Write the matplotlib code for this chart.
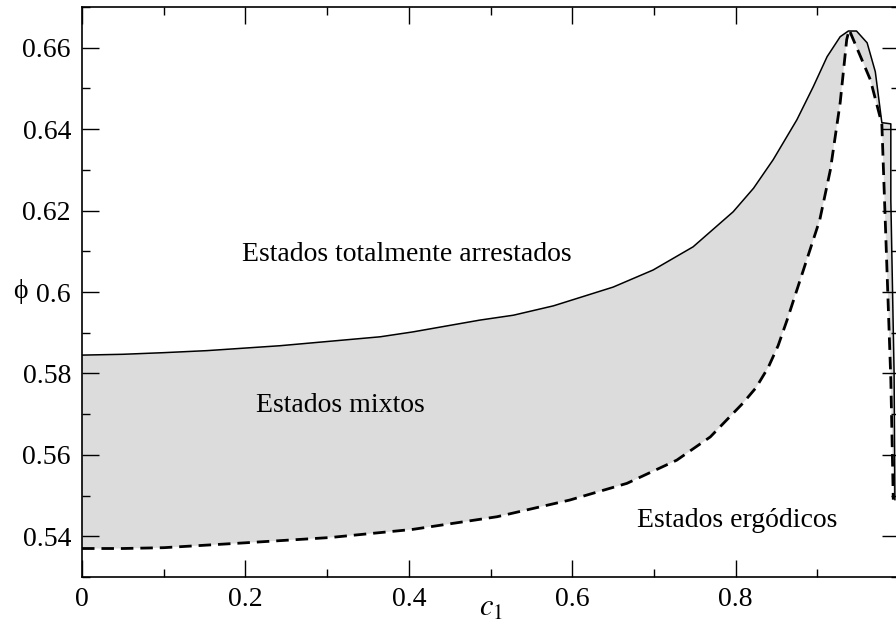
import matplotlib
matplotlib.use("Agg")

import matplotlib.pyplot as plt
import numpy as np
from matplotlib.ticker import MultipleLocator, FuncFormatter

# frontera superior (arresto total), linea continua
c1_sup = [0.0, 0.05, 0.10, 0.153, 0.242, 0.365, 0.405, 0.487, 0.528, 0.577,
          0.650, 0.699, 0.748, 0.797, 0.822, 0.846, 0.875, 0.895, 0.912,
          0.928, 0.938, 0.948, 0.961, 0.971, 0.979, 0.990, 0.990, 0.994, 0.995]
phi_sup = [0.5845, 0.5847, 0.5851, 0.5856, 0.5868, 0.5890, 0.5902, 0.5931,
           0.5943, 0.5966, 0.6012, 0.6054, 0.6111, 0.6197, 0.6255, 0.6325,
           0.6423, 0.6504, 0.6578, 0.6627, 0.6641, 0.6641, 0.6612, 0.6541,
           0.6416, 0.6413, 0.6226, 0.5800, 0.5490]

# frontera inferior (ergodicidad), linea discontinua
c1_inf = [0.0, 0.05, 0.10, 0.20, 0.304, 0.405, 0.508, 0.597, 0.667, 0.728,
          0.769, 0.809, 0.825, 0.840, 0.852, 0.863, 0.883, 0.903, 0.916,
          0.928, 0.936, 0.939, 0.965, 0.979, 0.984, 0.990, 0.993]
phi_inf = [0.5370, 0.5370, 0.5372, 0.5384, 0.5397, 0.5417, 0.5448, 0.5489,
           0.5530, 0.5587, 0.5644, 0.5727, 0.5765, 0.5815, 0.5868, 0.5931,
           0.6054, 0.6177, 0.6300, 0.6465, 0.6620, 0.6644, 0.6521, 0.6413,
           0.6128, 0.5784, 0.5490]

plt.rcParams["font.family"] = ["Liberation Serif", "DejaVu Serif"]
plt.rcParams["mathtext.fontset"] = "stix"

fig = plt.figure(figsize=(8.96, 6.34), dpi=100)
ax = fig.add_axes([82 / 896, 57 / 634, 817 / 896, 570 / 634])

# region mixta entre ambas fronteras
poly_x = np.concatenate([c1_sup, c1_inf[::-1]])
poly_y = np.concatenate([phi_sup, phi_inf[::-1]])
ax.fill(poly_x, poly_y, color="#dcdcdc", lw=0, zorder=1)

ax.plot(c1_sup, phi_sup, color="black", lw=1.1, zorder=3)
ax.plot(c1_inf, phi_inf, color="black", lw=2.0, dashes=(4.5, 2.5), zorder=3)

ax.set_xlim(0, 1)
ax.set_ylim(0.53, 0.67)

ax.xaxis.set_major_locator(MultipleLocator(0.2))
ax.xaxis.set_minor_locator(MultipleLocator(0.1))
ax.yaxis.set_major_locator(MultipleLocator(0.02))
ax.yaxis.set_minor_locator(MultipleLocator(0.01))
# la etiqueta de 1 queda fuera del borde derecho
ax.xaxis.set_major_formatter(FuncFormatter(lambda v, p: "" if v > 0.99 else f"{v:g}"))
ax.yaxis.set_major_formatter(FuncFormatter(lambda v, p: f"{v:g}"))

ax.tick_params(which="both", direction="in", top=True, right=True,
               width=1.0, labelsize=20)
ax.tick_params(axis="y", pad=8)
ax.tick_params(axis="x", pad=7)
ax.tick_params(which="major", length=12)
ax.tick_params(which="minor", length=6)
for sp in ax.spines.values():
    sp.set_linewidth(1.2)

ax.set_xlabel(r"$c_\mathit{1}$", fontsize=22, va="center")
ax.xaxis.set_label_coords(0.5, -0.055)
ax.set_ylabel("ϕ", fontsize=20, rotation=0, va="center", ha="center")
ax.yaxis.set_label_coords(-0.076, 0.5)

ax.text(0.397, 0.6093, "Estados totalmente arrestados", fontsize=20,
        ha="center", va="center")
ax.text(0.316, 0.5722, "Estados mixtos", fontsize=20,
        ha="center", va="center")
ax.text(0.802, 0.5439, "Estados ergódicos", fontsize=20,
        ha="center", va="center")

fig.savefig("out.png", dpi=100)
